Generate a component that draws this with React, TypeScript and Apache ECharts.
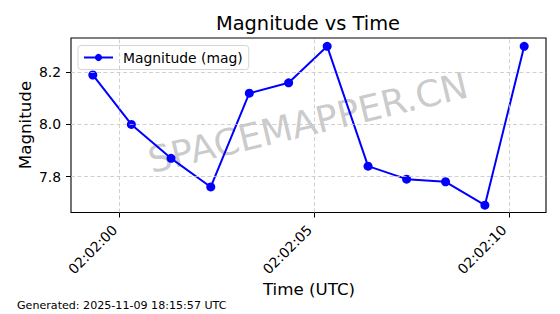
import React, { useEffect, useRef } from "react";
import * as echarts from "echarts";

const times = [
  "02:01:59.31", "02:02:00.30", "02:02:01.32", "02:02:02.34", "02:02:03.33", "02:02:04.34",
  "02:02:05.33", "02:02:06.38", "02:02:07.37", "02:02:08.37", "02:02:09.38", "02:02:10.39",
];
const magnitudes = [8.19, 8.0, 7.87, 7.76, 8.12, 8.16, 8.3, 7.84, 7.79, 7.78, 7.69, 8.3];
const xTickLabels = ["02:02:00", "02:02:05", "02:02:10"];
const yTickValues = [7.8, 8.0, 8.2];
const xRange = ["02:01:58.75", "02:02:10.95"];
const yRange = [7.662, 8.332];

const titleText = "Magnitude vs Time";
const xName = "Time (UTC)";
const yName = "Magnitude";
const seriesName = "Magnitude (mag)";
const watermark = "SPACEMAPPER.CN";
const footer = "Generated: 2025-11-09 18:15:57 UTC";

const FONT = "DejaVu Sans";

function toSec(s: string): number {
  const [h, m, sec] = s.split(":");
  return parseInt(h, 10) * 3600 + parseInt(m, 10) * 60 + parseFloat(sec);
}
function fmtTime(v: number): string {
  const t = Math.round(v);
  const h = Math.floor(t / 3600);
  const m = Math.floor((t % 3600) / 60);
  const s = t % 60;
  const p = (n: number) => String(n).padStart(2, "0");
  return `${p(h)}:${p(m)}:${p(s)}`;
}

export default function App() {
  const ref = useRef<HTMLDivElement>(null);
  useEffect(() => {
    if (!ref.current) return;
    const chart = echarts.init(ref.current, undefined, { renderer: "svg" });
    const xTicks = xTickLabels.map(toSec);
    const data = times.map((t, i) => [toSec(t), magnitudes[i]]);
    const gridLines = [
      ...xTicks.map((v) => ({ xAxis: v })),
      ...yTickValues.map((v) => ({ yAxis: v })),
    ];
    chart.setOption({
      animation: false,
      textStyle: { fontFamily: FONT },
      grid: {
        left: 71,
        right: 14,
        top: 38,
        bottom: 101.5,
        show: true,
        borderColor: "#000",
        borderWidth: 1.1,
        backgroundColor: "transparent",
        z: 5,
      },
      legend: {
        data: [seriesName],
        left: 78,
        top: 45.5,
        padding: [5, 6, 5, 5],
        itemWidth: 29,
        itemHeight: 9,
        itemGap: 0,
        backgroundColor: "rgba(255,255,255,0.8)",
        borderColor: "#d5d5d5",
        borderWidth: 1,
        borderRadius: 3,
        textStyle: { fontFamily: FONT, fontSize: 13.9, color: "#000", padding: [0, 0, 0, 5] },
      },
      xAxis: {
        type: "value",
        min: toSec(xRange[0]),
        max: toSec(xRange[1]),
        axisLine: { show: false },
        splitLine: { show: false },
        axisTick: {
          show: true,
          length: 5,
          customValues: xTicks,
          lineStyle: { color: "#000", width: 1 },
        },
        axisLabel: {
          customValues: xTicks,
          formatter: (v: number) => fmtTime(v),
          rotate: 45,
          margin: 10,
          padding: [0, 7, 0, 0],
          fontFamily: FONT,
          fontSize: 13.9,
          color: "#000",
        },
      },
      yAxis: {
        type: "value",
        min: yRange[0],
        max: yRange[1],
        axisLine: { show: false },
        splitLine: { show: false },
        axisTick: {
          show: true,
          length: 5,
          customValues: yTickValues,
          lineStyle: { color: "#000", width: 1 },
        },
        axisLabel: {
          customValues: yTickValues,
          formatter: (v: number) => v.toFixed(1),
          margin: 10,
          fontFamily: FONT,
          fontSize: 13.9,
          color: "#000",
        },
      },
      graphic: [
        {
          type: "text",
          x: 308,
          y: 123,
          rotation: (13.5 * Math.PI) / 180,
          z: 1,
          silent: true,
          style: {
            text: watermark,
            fontFamily: FONT,
            fontSize: 36.5,
            fill: "rgba(128,128,128,0.42)",
            align: "center",
            verticalAlign: "middle",
          },
        },
        {
          type: "text",
          x: 308,
          y: 23.5,
          style: {
            text: titleText,
            fontFamily: FONT,
            fontSize: 19.4,
            fill: "#000",
            align: "center",
            verticalAlign: "middle",
          },
        },
        {
          type: "text",
          x: 309,
          y: 288.5,
          style: {
            text: xName,
            fontFamily: FONT,
            fontSize: 16.7,
            fill: "#000",
            align: "center",
            verticalAlign: "middle",
          },
        },
        {
          type: "text",
          x: 25,
          y: 125,
          rotation: Math.PI / 2,
          style: {
            text: yName,
            fontFamily: FONT,
            fontSize: 16.7,
            fill: "#000",
            align: "center",
            verticalAlign: "middle",
          },
        },
        {
          type: "text",
          x: 17,
          y: 305,
          style: {
            text: footer,
            fontFamily: FONT,
            fontSize: 11.1,
            fill: "#000",
            align: "left",
            verticalAlign: "middle",
          },
        },
      ],
      series: [
        {
          name: "grid",
          type: "line",
          data: [],
          z: 1,
          silent: true,
          markLine: {
            silent: true,
            symbol: ["none", "none"],
            label: { show: false },
            emphasis: { disabled: true },
            lineStyle: { color: "#c4c4c4", type: [4, 2.5], width: 0.8 },
            data: gridLines,
          },
        },
        {
          name: seriesName,
          type: "line",
          data,
          z: 3,
          color: "#0000ff",
          symbol: "circle",
          symbolSize: 9,
          showSymbol: true,
          lineStyle: { color: "#0000ff", width: 2 },
          itemStyle: { color: "#0000ff" },
        },
      ],
    });
    return () => chart.dispose();
  }, []);
  return (
    <div
      ref={ref}
      style={{ position: "absolute", left: 0, top: 0, width: 560, height: 314 }}
    />
  );
}
